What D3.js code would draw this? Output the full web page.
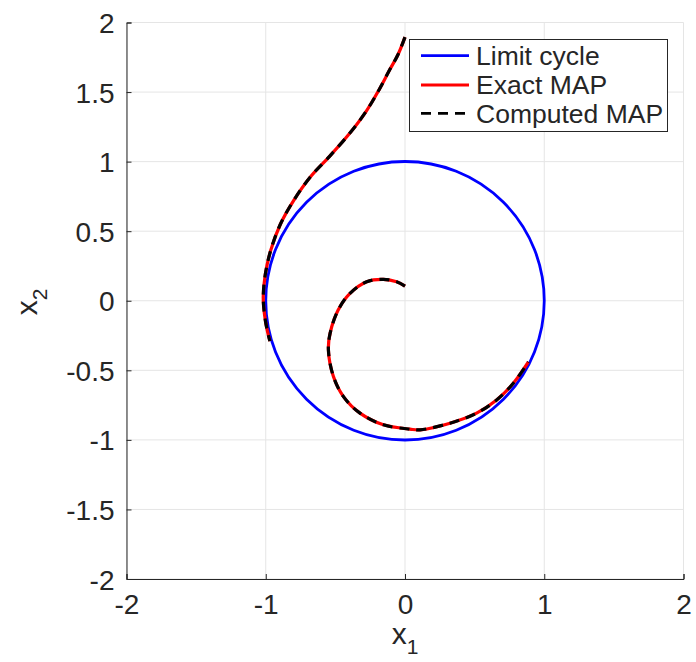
<!DOCTYPE html>
<html>
<head>
<meta charset="utf-8">
<script src="https://cdn.jsdelivr.net/npm/d3@7"></script>
<style>
  html, body { margin: 0; padding: 0; background: #fff; }
  svg { display: block; }
  text { font-family: "Liberation Sans", Arial, Helvetica, sans-serif; fill: #262626; }
</style>
</head>
<body>
<script>
// Phase-plane: limit cycle and minimum action paths (MAP)
const xTicks = [-2, -1, 0, 1, 2];
const yTicks = [-2, -1.5, -1, -0.5, 0, 0.5, 1, 1.5, 2];
const xGrid = [-2, -1, 0, 1, 2];
const yGrid = [-2, -1.5, -1, -0.5, 0, 0.5, 1, 1.5, 2];

// Limit cycle: centre and radius
const cycleCenter = [0, 0];
const cycleRadius = 1;

// Outer branch of the MAP (x1, x2)
const mapOuter = [
  [0.0, 1.895], [-0.05, 1.77], [-0.11, 1.66], [-0.19, 1.51], [-0.28, 1.36],
  [-0.40, 1.20], [-0.54, 1.04], [-0.68, 0.89], [-0.80, 0.72], [-0.895, 0.55],
  [-0.965, 0.36], [-1.003, 0.19], [-1.018, 0.03], [-1.01, -0.09],
  [-0.99, -0.21], [-0.97, -0.29]
];

// Inner spiral branch of the MAP (x1, x2)
const mapSpiral = [
  [0.0, 0.105], [-0.06, 0.137], [-0.155, 0.154], [-0.275, 0.137],
  [-0.395, 0.053], [-0.48, -0.067], [-0.538, -0.234], [-0.55, -0.354],
  [-0.514, -0.545], [-0.442, -0.689], [-0.323, -0.808], [-0.155, -0.892],
  [0.036, -0.923], [0.108, -0.928], [0.323, -0.88], [0.514, -0.808],
  [0.658, -0.713], [0.778, -0.593], [0.886, -0.44]
];

const legendLabels = ["Limit cycle", "Exact MAP", "Computed MAP"];

const W = 696, H = 662;
const svg = d3.select("body").append("svg").attr("width", W).attr("height", H);

const x = d3.scaleLinear().domain([-2, 2]).range([126.5, 683.5]);
const y = d3.scaleLinear().domain([-2, 2]).range([579, 22.5]);

// tick labels use a plain hyphen for negatives
const fmt = d => String(d);

// grid
const grid = svg.append("g").attr("stroke", "#e5e5e5").attr("stroke-width", 1);
grid.selectAll("line.gx").data(xGrid).join("line").attr("class", "gx")
  .attr("x1", d => x(d)).attr("x2", d => x(d)).attr("y1", y(-2)).attr("y2", y(2));
grid.selectAll("line.gy").data(yGrid).join("line").attr("class", "gy")
  .attr("x1", x(-2)).attr("x2", x(2)).attr("y1", d => y(d)).attr("y2", d => y(d));

// axes
const xAxis = d3.axisBottom(x).tickValues(xTicks).tickSize(-5).tickPadding(15).tickFormat(fmt);
const yAxis = d3.axisLeft(y).tickValues(yTicks).tickSize(-5).tickPadding(12).tickFormat(fmt);

const gx = svg.append("g").attr("transform", `translate(0,${y(-2)})`).call(xAxis);
const gy = svg.append("g").attr("transform", `translate(${x(-2)},0)`).call(yAxis);
[gx, gy].forEach(g => {
  g.select(".domain").attr("stroke", "#262626").attr("stroke-width", 1);
  g.selectAll(".tick line").attr("stroke", "#262626");
  g.selectAll(".tick text").attr("font-size", 28).attr("fill", "#262626")
    .attr("font-family", "Liberation Sans, Arial, sans-serif");
});
gy.selectAll(".tick text").attr("dy", "0.36em");

// curves
const line = d3.line().x(d => x(d[0])).y(d => y(d[1])).curve(d3.curveCatmullRom.alpha(0.5));

svg.append("circle")
  .attr("cx", x(cycleCenter[0])).attr("cy", y(cycleCenter[1]))
  .attr("r", x(cycleRadius) - x(0))
  .attr("fill", "none").attr("stroke", "#0000ff").attr("stroke-width", 2.8);

[mapOuter, mapSpiral].forEach(pts => {
  svg.append("path").attr("d", line(pts)).attr("fill", "none")
    .attr("stroke", "#ff0000").attr("stroke-width", 3.2);
  svg.append("path").attr("d", line(pts)).attr("fill", "none")
    .attr("stroke", "#000").attr("stroke-width", 3.2).attr("stroke-dasharray", "10,7");
});

// axis labels
const xl = svg.append("text").attr("x", 405).attr("y", 644).attr("text-anchor", "middle")
  .attr("font-size", 30);
xl.append("tspan").text("x");
xl.append("tspan").attr("font-size", 21).attr("dy", 10).text("1");

const yl = svg.append("text").attr("transform", "translate(37,302) rotate(-90)")
  .attr("text-anchor", "middle").attr("font-size", 30);
yl.append("tspan").text("x");
yl.append("tspan").attr("font-size", 21).attr("dy", 10).text("2");

// legend
const lg = svg.append("g");
lg.append("rect").attr("x", 409.5).attr("y", 39.5).attr("width", 258).attr("height", 92)
  .attr("fill", "#fff").attr("stroke", "#262626").attr("stroke-width", 1);
const rowsY = [55.7, 85, 113.3];
const styles = [
  { stroke: "#0000ff", dash: null },
  { stroke: "#ff0000", dash: null },
  { stroke: "#000", dash: "10,7" }
];
legendLabels.forEach((lab, i) => {
  lg.append("line").attr("x1", 421).attr("x2", 469).attr("y1", rowsY[i]).attr("y2", rowsY[i])
    .attr("stroke", styles[i].stroke).attr("stroke-width", 2.8)
    .attr("stroke-dasharray", styles[i].dash);
  lg.append("text").attr("x", 476).attr("y", rowsY[i]).attr("dy", "0.35em")
    .attr("font-size", 26.5).text(lab);
});
</script>
</body>
</html>
